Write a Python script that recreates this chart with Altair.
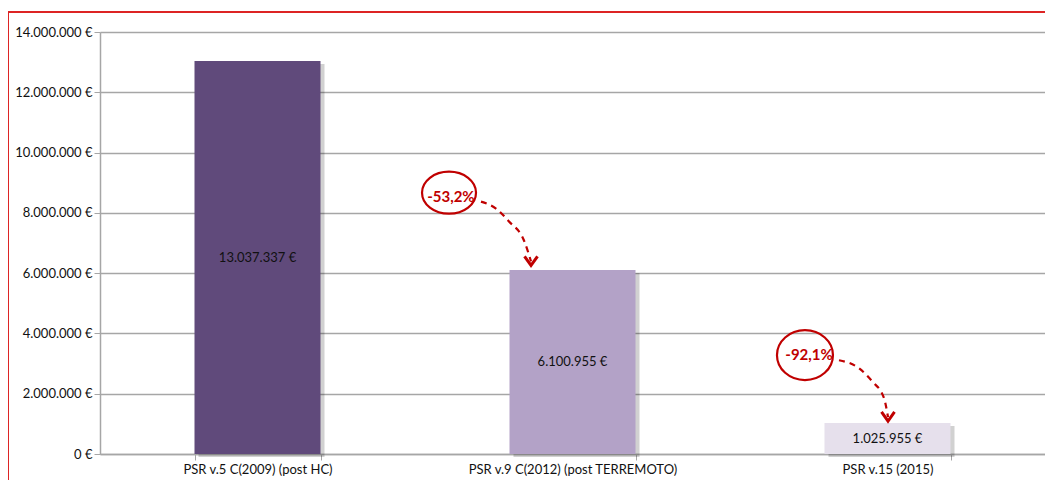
import altair as alt
import pandas as pd

# ---- data ----
categories = ["PSR v.5 C(2009) (post HC)", "PSR v.9 C(2012) (post TERREMOTO)", "PSR v.15 (2015)"]
values = [13037337, 6100955, 1025955]
bar_labels = ["13.037.337 €", "6.100.955 €", "1.025.955 €"]
bar_colors = ["#604a7b", "#b3a2c7", "#e6e0ec"]
y_ticks = [0, 2000000, 4000000, 6000000, 8000000, 10000000, 12000000, 14000000]

# annotations (x in category units 0..3, y in euro)
ann_text = ["-53,2%", "-92,1%"]
ann_text_x = [1.114, 2.251]
ann_text_y = [8540000, 3280000]
ell_x = [1.108, 2.238]
ell_y = [8670000, 3280000]
ell_w = [54, 56]
ell_ratio = [0.78, 0.89]

arrow1_x = [1.2095, 1.2571, 1.2984, 1.3460, 1.3683]
arrow1_y = [8373000, 8142000, 7712000, 7083000, 6388000]
arrow2_x = [2.346, 2.4095, 2.4508, 2.4889, 2.5016]
arrow2_y = [3111000, 2846000, 2416000, 1853000, 1225000]
head_x = [1.3683, 2.5016]
head_y = [6255000, 1092000]

RED = "#c00000"
FONT = "Lato"

bars_df = pd.DataFrame({"cat": categories, "value": values, "label": bar_labels, "color": bar_colors})

k = 0.5523
def ellipse_path(r):
    return (f"M1,0 C1,{k*r:.3f} {k},{r} 0,{r} C{-k},{r} -1,{k*r:.3f} -1,0 "
            f"C-1,{-k*r:.3f} {-k},{-r} 0,{-r} C{k},{-r} 1,{-k*r:.3f} 1,0 Z")

ell_df = pd.DataFrame({
    "x": ell_x, "y": ell_y,
    "size": [w * w for w in ell_w],
    "shape": [ellipse_path(r) for r in ell_ratio],
})
txt_df = pd.DataFrame({"x": ann_text_x, "y": ann_text_y, "t": ann_text})
arr_rows = []
for i, (xs, ys) in enumerate([(arrow1_x, arrow1_y), (arrow2_x, arrow2_y)]):
    for j, (a, b) in enumerate(zip(xs, ys)):
        arr_rows.append({"id": i, "o": j, "x": a, "y": b})
arr_df = pd.DataFrame(arr_rows)
head_df = pd.DataFrame({"x": head_x, "y": head_y})

yscale = alt.Scale(domain=[0, 14000000], nice=False, zero=True)
xband = alt.Scale(paddingInner=0.6, paddingOuter=0.3)

base = alt.Chart(bars_df)

shadow = base.mark_bar(xOffset=4, yOffset=3, color="#000000", opacity=0.18).encode(
    x=alt.X("cat:N", sort=categories, scale=xband,
            axis=alt.Axis(title=None, labelAngle=0, tickBand="extent", tickSize=6,
                          domainColor="#a6a6a6", tickColor="#a6a6a6", domainWidth=1.5,
                          labelFontSize=13, labelColor="#111", labelPadding=3,
                          labelFont=FONT, labelLimit=0, grid=False)),
    y=alt.Y("value:Q", scale=yscale,
            axis=alt.Axis(title=None, values=y_ticks,
                          labelExpr="format(datum.value, ',d') + ' €'",
                          tickSize=6, tickColor="#a6a6a6", domainColor="#a6a6a6",
                          domainWidth=1.5, gridColor="#a6a6a6", gridWidth=1.5,
                          labelFontSize=13, labelColor="#111", labelFont=FONT,
                          labelPadding=2)),
)

bars = base.mark_bar().encode(
    x=alt.X("cat:N", sort=categories, scale=xband),
    y=alt.Y("value:Q", scale=yscale),
    color=alt.Color("color:N", scale=None),
)

labels = base.transform_calculate(half="datum.value / 2").mark_text(
    fontSize=13, font=FONT, color="#111"
).encode(
    x=alt.X("cat:N", sort=categories, scale=xband),
    y=alt.Y("half:Q", scale=yscale),
    text="label:N",
)

xq = alt.Scale(domain=[0, 3], nice=False, zero=False)

ellipses = alt.Chart(ell_df).mark_point(filled=False, stroke=RED, strokeWidth=2.2, opacity=1).encode(
    x=alt.X("x:Q", scale=xq, axis=None),
    y=alt.Y("y:Q", scale=yscale),
    shape=alt.Shape("shape:N", scale=None),
    size=alt.Size("size:Q", scale=None),
)

texts = alt.Chart(txt_df).mark_text(fontSize=15, fontWeight="bold", color=RED, font=FONT).encode(
    x=alt.X("x:Q", scale=xq, axis=None),
    y=alt.Y("y:Q", scale=yscale),
    text="t:N",
)

arrows = alt.Chart(arr_df).mark_line(color=RED, strokeWidth=2.2, strokeDash=[6, 5],
                                     interpolate="monotone").encode(
    x=alt.X("x:Q", scale=xq, axis=None),
    y=alt.Y("y:Q", scale=yscale),
    detail="id:N",
    order="o:Q",
)

heads = alt.Chart(head_df).mark_point(
    shape="M-1,-1.4 L0,0 L1,-1.4", filled=False, stroke=RED, strokeWidth=3, size=169, opacity=1
).encode(
    x=alt.X("x:Q", scale=xq, axis=None),
    y=alt.Y("y:Q", scale=yscale),
)

frame_top = alt.Chart(bars_df).mark_rule(color="#dd2222", strokeWidth=1.5).encode(
    x=alt.value(-92), x2=alt.value(1000), y=alt.value(-20)
)
frame_left = alt.Chart(bars_df).mark_rule(color="#dd2222", strokeWidth=1.5).encode(
    x=alt.value(-92), y=alt.value(-20), y2=alt.value(480)
)

main = alt.layer(shadow, bars, labels)
ann = alt.layer(ellipses, texts, arrows, heads)

chart = alt.layer(main, ann, frame_top, frame_left).resolve_scale(x="independent").properties(
    width=945, height=422,
    padding={"left": 92, "top": 24, "right": 0, "bottom": 26},
    autosize=alt.AutoSizeParams(type="none"),
).configure(
    locale={"number": {"decimal": ",", "thousands": ".", "grouping": [3], "currency": ["", " €"]}}
).configure_view(stroke=None).configure_axis(labelFont=FONT)

chart.save("out.html", embed_options={"renderer": "svg", "actions": False})
